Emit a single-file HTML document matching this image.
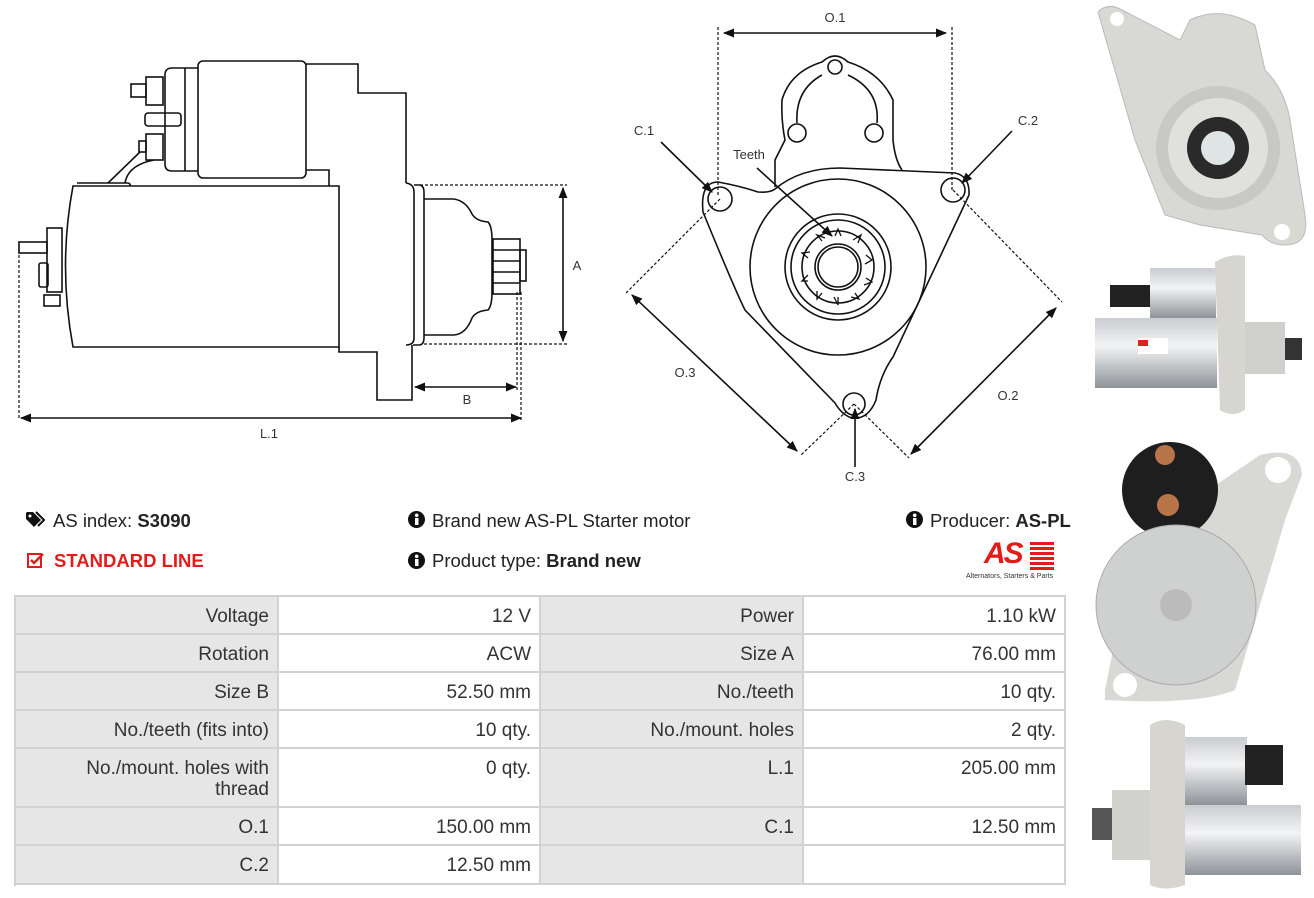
<!DOCTYPE html>
<html><head><meta charset="utf-8">
<style>
html,body{margin:0;padding:0;background:#fff;}
body{width:1314px;height:898px;position:relative;overflow:hidden;font-family:"Liberation Sans",sans-serif;color:#222;}
.a{position:absolute;}
.t{position:absolute;font-size:18.5px;white-space:nowrap;}
.c{position:absolute;box-sizing:border-box;text-align:right;padding:9px 8px 0 0;font-size:19px;line-height:21px;color:#333;border-right:2px solid #d2d2d2;border-bottom:2px solid #d2d2d2;}
.g{background:#e6e6e6;}
.w{background:#fff;}
</style></head><body>

<svg class="a" style="left:0;top:0" width="1080" height="490" viewBox="0 0 1080 490" fill="none" stroke="#111" stroke-width="1.6">
<defs>
<marker id="ar" viewBox="0 0 10 10" refX="9" refY="5" markerWidth="7" markerHeight="7" orient="auto-start-reverse"><path d="M0,1 L10,5 L0,9 z" fill="#111" stroke="none"/></marker>
</defs>
<rect x="198" y="61" width="108" height="117" rx="5" fill="#fff"/>
<path d="M198,68 H172 Q165,68 165,75 V164 Q165,171 172,171 H198"/>
<line x1="185" y1="68" x2="185" y2="171"/>
<rect x="146" y="77" width="17" height="28"/>
<rect x="131" y="84" width="15" height="13"/>
<rect x="145" y="113" width="36" height="13" rx="3"/>
<rect x="146" y="134" width="17" height="26"/>
<rect x="139" y="141" width="7" height="11"/>
<path d="M140,152 L108,183 M154,160 Q128,165 125,183"/>
<path d="M306,64 H358 V93 H406 V183"/>
<path d="M306,170 H329 V186"/>
<path d="M77,183 H128 Q131,184 130,186"/>
<path d="M73,186 H339 V347 H73 Q58,266 73,186 Z" fill="#fff"/>
<path d="M339,347 V352 H377 V400 H412 V345"/>
<path d="M406,183 Q414,184 414,192 V338 Q414,345 406,345"/>
<path d="M414,185 H420 Q424,186 424,192 V338 Q424,344 420,345 H413"/>
<path d="M424,199 H454 Q466,201 472,214 Q476,221 488,222 Q492,226 492,240 V292 Q492,306 488,310 Q476,311 472,318 Q466,334 454,335 H424"/>
<rect x="493" y="239" width="27" height="55"/>
<line x1="493" y1="250" x2="520" y2="250"/><line x1="493" y1="261" x2="520" y2="261"/><line x1="493" y1="272" x2="520" y2="272"/><line x1="493" y1="283" x2="520" y2="283"/>
<rect x="520" y="250" width="6" height="31"/>
<rect x="47" y="228" width="15" height="64"/>
<rect x="19" y="242" width="28" height="11"/>
<rect x="39" y="263" width="9" height="24" rx="2"/>
<rect x="44" y="295" width="16" height="11"/>
<g stroke-dasharray="3,2" stroke-width="1.2">
<line x1="420" y1="185" x2="567" y2="185"/>
<line x1="424" y1="344" x2="567" y2="344"/>
<line x1="19" y1="250" x2="19" y2="420"/>
<line x1="521" y1="292" x2="521" y2="420"/>
<line x1="517" y1="292" x2="517" y2="390"/>
</g>
<line x1="563" y1="188" x2="563" y2="341" marker-start="url(#ar)" marker-end="url(#ar)"/>
<line x1="415" y1="387" x2="516" y2="387" marker-start="url(#ar)" marker-end="url(#ar)"/>
<line x1="21" y1="418" x2="521" y2="418" marker-start="url(#ar)" marker-end="url(#ar)"/>

<path d="M775,187 V160 L785,140 Q781,120 782,100 Q790,72 822,62 Q835,50 848,62 Q880,72 893,100 V140 Q895,160 902,170"/>
<path d="M797,123 Q795,90 822,75 M848,75 Q880,90 877,123"/>
<circle cx="835" cy="67" r="7"/><circle cx="797" cy="133" r="9"/><circle cx="874" cy="133" r="9"/>
<path d="M718,182 Q740,186 758,192 Q770,193 775,189 Q800,168 840,168 L955,173 Q970,176 969,195 L893,357 Q880,375 876,400 Q868,420 852,418 Q842,415 835,403 L745,310 Q735,290 703,212 Q700,182 718,182 Z" fill="#fff"/>
<circle cx="720" cy="199" r="12"/><circle cx="953" cy="190" r="12"/><circle cx="854" cy="404" r="11"/>
<circle cx="838" cy="267" r="88"/><circle cx="838" cy="267" r="53"/><circle cx="838" cy="267" r="47"/><circle cx="838" cy="267" r="36"/><circle cx="838" cy="267" r="23"/><circle cx="838" cy="267" r="20"/>
<g stroke-width="1.3">
<path d="M835,236 L838,229 L841,236 M853,240 L861,235 L858,243 M866,255 L872,260 L865,264 M866,278 L872,282 L864,285 M855,293 L859,299 L851,297 M838,297 L838,305 L834,297 M822,293 L817,299 L817,291 M808,281 L802,281 L808,275 M808,258 L802,253 L810,252 M822,241 L817,235 L825,238"/>
</g>
<g stroke-dasharray="3,2" stroke-width="1.2">
<line x1="718" y1="27" x2="718" y2="195"/>
<line x1="952" y1="27" x2="952" y2="190"/>
<line x1="720" y1="199" x2="626" y2="293"/>
<line x1="854" y1="404" x2="800" y2="456"/>
<line x1="953" y1="190" x2="1062" y2="302"/>
<line x1="854" y1="404" x2="909" y2="458"/>
</g>
<line x1="724" y1="33" x2="946" y2="33" marker-start="url(#ar)" marker-end="url(#ar)"/>
<line x1="632" y1="295" x2="797" y2="451" marker-start="url(#ar)" marker-end="url(#ar)"/>
<line x1="1056" y1="308" x2="911" y2="454" marker-start="url(#ar)" marker-end="url(#ar)"/>
<line x1="661" y1="142" x2="712" y2="192" marker-end="url(#ar)"/>
<line x1="1012" y1="131" x2="962" y2="183" marker-end="url(#ar)"/>
<line x1="855" y1="467" x2="855" y2="409" marker-end="url(#ar)"/>
<line x1="757" y1="168" x2="832" y2="236" marker-end="url(#ar)"/>
<g fill="#333" stroke="none" font-family="Liberation Sans, sans-serif" font-size="13" text-anchor="middle">
<text x="577" y="270">A</text><text x="467" y="404">B</text><text x="269" y="438">L.1</text>
<text x="835" y="22">O.1</text><text x="644" y="135">C.1</text><text x="1028" y="125">C.2</text>
<text x="855" y="481">C.3</text><text x="749" y="159">Teeth</text><text x="685" y="377">O.3</text><text x="1008" y="400">O.2</text>
</g>
</svg>

<svg class="a" style="left:1085px;top:0" width="229" height="898" viewBox="1085 0 229 898">
<defs>
<linearGradient id="sv" x1="0" y1="0" x2="0" y2="1"><stop offset="0" stop-color="#c9ccd0"/><stop offset=".4" stop-color="#f2f3f4"/><stop offset="1" stop-color="#8e9398"/></linearGradient>
</defs>
<path d="M1098,12 Q1108,2 1122,10 L1180,40 L1190,20 Q1220,5 1255,25 L1265,70 Q1285,90 1290,120 L1305,215 Q1310,245 1285,245 Q1270,245 1262,235 L1200,225 L1165,215 L1135,140 Z" fill="#d8d8d4" stroke="#bbb"/>
<circle cx="1117" cy="19" r="7" fill="#fff"/><circle cx="1282" cy="232" r="8" fill="#fff"/>
<circle cx="1218" cy="148" r="62" fill="#c8c8c4"/><circle cx="1218" cy="148" r="50" fill="#e0e0dc"/>
<circle cx="1218" cy="148" r="31" fill="#2a2a2a"/><circle cx="1218" cy="148" r="17" fill="#dfe4e4"/>
<rect x="1095" y="318" width="122" height="70" fill="url(#sv)"/>
<rect x="1150" y="268" width="66" height="50" fill="url(#sv)"/>
<rect x="1110" y="285" width="40" height="22" fill="#222"/>
<rect x="1138" y="338" width="30" height="16" fill="#fff"/><rect x="1138" y="340" width="10" height="6" fill="#d22"/>
<path d="M1215,262 Q1230,253 1245,256 V410 Q1232,418 1220,410 Z" fill="#d6d5d0"/>
<rect x="1245" y="322" width="40" height="52" fill="#cfcfcb"/>
<rect x="1285" y="338" width="17" height="22" fill="#333"/>
<path d="M1105,690 L1135,540 L1260,455 Q1300,445 1302,475 L1285,520 L1235,690 Q1200,705 1105,700 Z" fill="#d8d8d4"/>
<circle cx="1278" cy="470" r="13" fill="#fff"/><circle cx="1125" cy="685" r="12" fill="#fff"/>
<circle cx="1170" cy="490" r="48" fill="#1e1e1e"/>
<circle cx="1165" cy="455" r="10" fill="#b8754a"/><circle cx="1168" cy="505" r="11" fill="#b8754a"/>
<circle cx="1176" cy="605" r="80" fill="#cfd0d0" stroke="#aaa"/>
<circle cx="1176" cy="605" r="16" fill="#bbb"/>
<rect x="1185" y="737" width="62" height="68" fill="url(#sv)"/>
<rect x="1245" y="745" width="38" height="40" fill="#222"/>
<rect x="1185" y="805" width="116" height="70" fill="url(#sv)"/>
<path d="M1150,725 Q1165,715 1185,725 V885 Q1165,892 1150,885 Z" fill="#d6d5d0"/>
<rect x="1112" y="790" width="38" height="70" fill="#d2d2ce"/>
<rect x="1092" y="808" width="20" height="32" fill="#555"/>
</svg>

<svg class="a" style="left:26px;top:511px" width="20" height="18" viewBox="0 0 20 18"><path d="M0,2 V8 L8,16 L15,9 L7,1 H1 Z" fill="#111"/><circle cx="4" cy="5" r="1.5" fill="#fff"/><path d="M10,1 L18,9 L12,15" stroke="#111" stroke-width="2" fill="none"/></svg>
<div class="t" style="left:53px;top:510px">AS index: <b>S3090</b></div>
<svg class="a" style="left:27px;top:552px" width="17" height="17" viewBox="0 0 17 17"><rect x="1" y="2" width="13" height="13" fill="none" stroke="#e21b1b" stroke-width="2"/><path d="M4,8 L7,11 L16,2" stroke="#e21b1b" stroke-width="2.5" fill="none"/></svg>
<div class="t" style="left:54px;top:550px;color:#e21b1b;font-weight:bold">STANDARD LINE</div>
<svg class="a" style="left:408px;top:511px" width="17" height="17"><circle cx="8.5" cy="8.5" r="8.5" fill="#111"/><rect x="7" y="7" width="3.5" height="7" fill="#fff"/><circle cx="8.7" cy="4.3" r="1.8" fill="#fff"/></svg>
<div class="t" style="left:432px;top:510px">Brand new AS-PL Starter motor</div>
<svg class="a" style="left:408px;top:552px" width="17" height="17"><circle cx="8.5" cy="8.5" r="8.5" fill="#111"/><rect x="7" y="7" width="3.5" height="7" fill="#fff"/><circle cx="8.7" cy="4.3" r="1.8" fill="#fff"/></svg>
<div class="t" style="left:432px;top:550px">Product type: <b>Brand new</b></div>
<svg class="a" style="left:906px;top:511px" width="17" height="17"><circle cx="8.5" cy="8.5" r="8.5" fill="#111"/><rect x="7" y="7" width="3.5" height="7" fill="#fff"/><circle cx="8.7" cy="4.3" r="1.8" fill="#fff"/></svg>
<div class="t" style="left:930px;top:510px">Producer: <b>AS-PL</b></div>
<div class="t" style="left:984px;top:537px;color:#e21b1b;font-weight:bold;font-style:italic;font-size:30px;letter-spacing:-2px">AS</div>
<div class="a" style="left:1030px;top:542px;width:24px;height:28px;background:repeating-linear-gradient(#e21b1b 0 3px,#fff 3px 5px)"></div>
<div class="t" style="left:966px;top:573px;font-size:7px;color:#333">Alternators, Starters &amp; Parts</div>

<div class="a" style="left:14px;top:595px;width:1052px;height:291px;border-left:2px solid #d2d2d2;border-top:2px solid #d2d2d2;box-sizing:border-box"></div>
<div class="c g" style="left:16px;top:597px;width:263px;height:38px">Voltage</div>
<div class="c w" style="left:279px;top:597px;width:262px;height:38px">12 V</div>
<div class="c g" style="left:541px;top:597px;width:263px;height:38px">Power</div>
<div class="c w" style="left:804px;top:597px;width:262px;height:38px">1.10 kW</div>
<div class="c g" style="left:16px;top:635px;width:263px;height:38px">Rotation</div>
<div class="c w" style="left:279px;top:635px;width:262px;height:38px">ACW</div>
<div class="c g" style="left:541px;top:635px;width:263px;height:38px">Size A</div>
<div class="c w" style="left:804px;top:635px;width:262px;height:38px">76.00 mm</div>
<div class="c g" style="left:16px;top:673px;width:263px;height:38px">Size B</div>
<div class="c w" style="left:279px;top:673px;width:262px;height:38px">52.50 mm</div>
<div class="c g" style="left:541px;top:673px;width:263px;height:38px">No./teeth</div>
<div class="c w" style="left:804px;top:673px;width:262px;height:38px">10 qty.</div>
<div class="c g" style="left:16px;top:711px;width:263px;height:38px">No./teeth (fits into)</div>
<div class="c w" style="left:279px;top:711px;width:262px;height:38px">10 qty.</div>
<div class="c g" style="left:541px;top:711px;width:263px;height:38px">No./mount. holes</div>
<div class="c w" style="left:804px;top:711px;width:262px;height:38px">2 qty.</div>
<div class="c g" style="left:16px;top:749px;width:263px;height:59px;white-space:normal;padding-left:55px">No./mount. holes with thread</div>
<div class="c w" style="left:279px;top:749px;width:262px;height:59px">0 qty.</div>
<div class="c g" style="left:541px;top:749px;width:263px;height:59px">L.1</div>
<div class="c w" style="left:804px;top:749px;width:262px;height:59px">205.00 mm</div>
<div class="c g" style="left:16px;top:808px;width:263px;height:38px">O.1</div>
<div class="c w" style="left:279px;top:808px;width:262px;height:38px">150.00 mm</div>
<div class="c g" style="left:541px;top:808px;width:263px;height:38px">C.1</div>
<div class="c w" style="left:804px;top:808px;width:262px;height:38px">12.50 mm</div>
<div class="c g" style="left:16px;top:846px;width:263px;height:39px">C.2</div>
<div class="c w" style="left:279px;top:846px;width:262px;height:39px">12.50 mm</div>
<div class="c g" style="left:541px;top:846px;width:263px;height:39px"></div>
<div class="c w" style="left:804px;top:846px;width:262px;height:39px"></div>
</body></html>
